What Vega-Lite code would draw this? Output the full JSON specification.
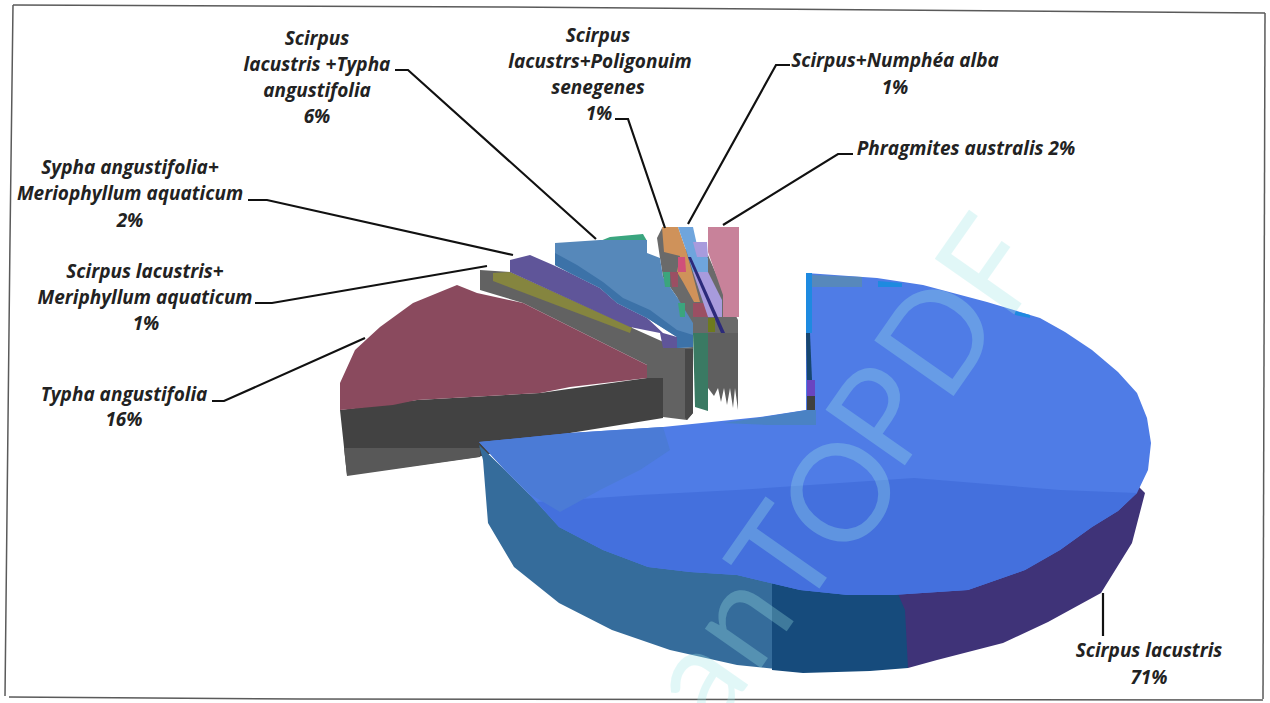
{
"$schema":"https://vega.github.io/schema/vega-lite/v6.json",
"width":1270,"height":703,"padding":0,
"autosize":{"type":"none","contains":"padding"},
"background":"#ffffff",
"view":{"stroke":null},
"datasets":{
"shapes":[
{"part":"typha side","i":0,"x":340,"y":410},{"part":"typha side","i":1,"x":347,"y":475},{"part":"typha side","i":2,"x":478,"y":457},{"part":"typha side","i":3,"x":570,"y":433},{"part":"typha side","i":4,"x":663,"y":418},{"part":"typha side","i":5,"x":663,"y":378},{"part":"typha side","i":6,"x":647,"y":378},{"part":"typha side","i":7,"x":540,"y":393},{"part":"typha side","i":8,"x":417,"y":400},
{"part":"typha side low","i":0,"x":344,"y":448},{"part":"typha side low","i":1,"x":480,"y":448},{"part":"typha side low","i":2,"x":480,"y":457},{"part":"typha side low","i":3,"x":347,"y":476},
{"part":"grey wall","i":0,"x":480,"y":270},{"part":"grey wall","i":1,"x":510,"y":272},{"part":"grey wall","i":2,"x":630,"y":327},{"part":"grey wall","i":3,"x":677,"y":348},{"part":"grey wall","i":4,"x":693,"y":347},{"part":"grey wall","i":5,"x":693,"y":413},{"part":"grey wall","i":6,"x":687,"y":420},{"part":"grey wall","i":7,"x":663,"y":417},{"part":"grey wall","i":8,"x":663,"y":378},{"part":"grey wall","i":9,"x":647,"y":378},{"part":"grey wall","i":10,"x":647,"y":365},{"part":"grey wall","i":11,"x":617,"y":350},{"part":"grey wall","i":12,"x":587,"y":335},{"part":"grey wall","i":13,"x":557,"y":320},{"part":"grey wall","i":14,"x":523,"y":303},{"part":"grey wall","i":15,"x":490,"y":293},{"part":"grey wall","i":16,"x":480,"y":290},
{"part":"wall shadow","i":0,"x":685,"y":349},{"part":"wall shadow","i":1,"x":693,"y":349},{"part":"wall shadow","i":2,"x":693,"y":413},{"part":"wall shadow","i":3,"x":687,"y":420},{"part":"wall shadow","i":4,"x":685,"y":418},
{"part":"typha top","i":0,"x":340,"y":410},{"part":"typha top","i":1,"x":340,"y":383},{"part":"typha top","i":2,"x":355,"y":350},{"part":"typha top","i":3,"x":380,"y":327},{"part":"typha top","i":4,"x":413,"y":303},{"part":"typha top","i":5,"x":457,"y":285},{"part":"typha top","i":6,"x":477,"y":293},{"part":"typha top","i":7,"x":523,"y":303},{"part":"typha top","i":8,"x":557,"y":320},{"part":"typha top","i":9,"x":587,"y":335},{"part":"typha top","i":10,"x":617,"y":350},{"part":"typha top","i":11,"x":647,"y":365},{"part":"typha top","i":12,"x":647,"y":378},{"part":"typha top","i":13,"x":570,"y":387},{"part":"typha top","i":14,"x":540,"y":393},{"part":"typha top","i":15,"x":417,"y":400},{"part":"typha top","i":16,"x":393,"y":405},
{"part":"olive top","i":0,"x":493,"y":273},{"part":"olive top","i":1,"x":510,"y":272},{"part":"olive top","i":2,"x":632,"y":327},{"part":"olive top","i":3,"x":630,"y":333},{"part":"olive top","i":4,"x":493,"y":281},
{"part":"purple top","i":0,"x":510,"y":260},{"part":"purple top","i":1,"x":530,"y":255},{"part":"purple top","i":2,"x":553,"y":265},{"part":"purple top","i":3,"x":570,"y":273},{"part":"purple top","i":4,"x":600,"y":288},{"part":"purple top","i":5,"x":617,"y":303},{"part":"purple top","i":6,"x":647,"y":318},{"part":"purple top","i":7,"x":663,"y":333},{"part":"purple top","i":8,"x":677,"y":337},{"part":"purple top","i":9,"x":677,"y":348},{"part":"purple top","i":10,"x":663,"y":348},{"part":"purple top","i":11,"x":660,"y":333},{"part":"purple top","i":12,"x":630,"y":327},{"part":"purple top","i":13,"x":510,"y":272},
{"part":"small grey","i":0,"x":657,"y":238},{"part":"small grey","i":1,"x":662,"y":228},{"part":"small grey","i":2,"x":678,"y":248},{"part":"small grey","i":3,"x":693,"y":250},{"part":"small grey","i":4,"x":708,"y":255},{"part":"small grey","i":5,"x":723,"y":290},{"part":"small grey","i":6,"x":738,"y":320},{"part":"small grey","i":7,"x":738,"y":335},{"part":"small grey","i":8,"x":693,"y":335},{"part":"small grey","i":9,"x":677,"y":297},{"part":"small grey","i":10,"x":663,"y":277},{"part":"small grey","i":11,"x":660,"y":258},
{"part":"green rim","i":0,"x":600,"y":241},{"part":"green rim","i":1,"x":610,"y":237},{"part":"green rim","i":2,"x":643,"y":234},{"part":"green rim","i":3,"x":647,"y":241},
{"part":"blue six top","i":0,"x":555,"y":243},{"part":"blue six top","i":1,"x":600,"y":240},{"part":"blue six top","i":2,"x":647,"y":240},{"part":"blue six top","i":3,"x":647,"y":253},{"part":"blue six top","i":4,"x":660,"y":258},{"part":"blue six top","i":5,"x":663,"y":277},{"part":"blue six top","i":6,"x":677,"y":297},{"part":"blue six top","i":7,"x":693,"y":323},{"part":"blue six top","i":8,"x":693,"y":347},{"part":"blue six top","i":9,"x":677,"y":348},{"part":"blue six top","i":10,"x":677,"y":337},{"part":"blue six top","i":11,"x":647,"y":318},{"part":"blue six top","i":12,"x":617,"y":303},{"part":"blue six top","i":13,"x":600,"y":288},{"part":"blue six top","i":14,"x":570,"y":273},{"part":"blue six top","i":15,"x":555,"y":265},
{"part":"blue six shade","i":0,"x":555,"y":253},{"part":"blue six shade","i":1,"x":577,"y":265},{"part":"blue six shade","i":2,"x":603,"y":282},{"part":"blue six shade","i":3,"x":623,"y":298},{"part":"blue six shade","i":4,"x":650,"y":310},{"part":"blue six shade","i":5,"x":677,"y":330},{"part":"blue six shade","i":6,"x":693,"y":335},{"part":"blue six shade","i":7,"x":693,"y":347},{"part":"blue six shade","i":8,"x":677,"y":348},{"part":"blue six shade","i":9,"x":677,"y":337},{"part":"blue six shade","i":10,"x":647,"y":318},{"part":"blue six shade","i":11,"x":617,"y":303},{"part":"blue six shade","i":12,"x":600,"y":288},{"part":"blue six shade","i":13,"x":570,"y":273},{"part":"blue six shade","i":14,"x":555,"y":265},
{"part":"green wall","i":0,"x":693,"y":333},{"part":"green wall","i":1,"x":708,"y":333},{"part":"green wall","i":2,"x":708,"y":411},{"part":"green wall","i":3,"x":695,"y":407},
{"part":"right wall","i":0,"x":708,"y":333},{"part":"right wall","i":1,"x":738,"y":333},{"part":"right wall","i":2,"x":738,"y":410},{"part":"right wall","i":3,"x":735,"y":388},{"part":"right wall","i":4,"x":733,"y":408},{"part":"right wall","i":5,"x":730,"y":388},{"part":"right wall","i":6,"x":727,"y":405},{"part":"right wall","i":7,"x":724,"y":388},{"part":"right wall","i":8,"x":721,"y":402},{"part":"right wall","i":9,"x":718,"y":388},{"part":"right wall","i":10,"x":714,"y":396},{"part":"right wall","i":11,"x":708,"y":388},
{"part":"orange top","i":0,"x":662,"y":227},{"part":"orange top","i":1,"x":678,"y":227},{"part":"orange top","i":2,"x":686,"y":250},{"part":"orange top","i":3,"x":692,"y":272},{"part":"orange top","i":4,"x":700,"y":302},{"part":"orange top","i":5,"x":694,"y":302},{"part":"orange top","i":6,"x":683,"y":282},{"part":"orange top","i":7,"x":677,"y":272},{"part":"orange top","i":8,"x":680,"y":256},{"part":"orange top","i":9,"x":664,"y":252},
{"part":"pink fleck","i":0,"x":678,"y":257},{"part":"pink fleck","i":1,"x":685,"y":257},{"part":"pink fleck","i":2,"x":686,"y":272},{"part":"pink fleck","i":3,"x":678,"y":272},
{"part":"maroon fleck","i":0,"x":670,"y":272},{"part":"maroon fleck","i":1,"x":678,"y":272},{"part":"maroon fleck","i":2,"x":678,"y":287},{"part":"maroon fleck","i":3,"x":672,"y":287},
{"part":"green fleck","i":0,"x":663,"y":272},{"part":"green fleck","i":1,"x":670,"y":272},{"part":"green fleck","i":2,"x":670,"y":287},{"part":"green fleck","i":3,"x":665,"y":287},
{"part":"green fleck low","i":0,"x":678,"y":303},{"part":"green fleck low","i":1,"x":685,"y":303},{"part":"green fleck low","i":2,"x":685,"y":317},{"part":"green fleck low","i":3,"x":680,"y":317},
{"part":"maroon fleck low","i":0,"x":693,"y":303},{"part":"maroon fleck low","i":1,"x":707,"y":303},{"part":"maroon fleck low","i":2,"x":708,"y":317},{"part":"maroon fleck low","i":3,"x":693,"y":317},
{"part":"sky top","i":0,"x":678,"y":227},{"part":"sky top","i":1,"x":693,"y":227},{"part":"sky top","i":2,"x":697,"y":245},{"part":"sky top","i":3,"x":708,"y":258},{"part":"sky top","i":4,"x":708,"y":272},{"part":"sky top","i":5,"x":693,"y":272},{"part":"sky top","i":6,"x":686,"y":250},
{"part":"lavender upper","i":0,"x":693,"y":242},{"part":"lavender upper","i":1,"x":707,"y":242},{"part":"lavender upper","i":2,"x":708,"y":257},{"part":"lavender upper","i":3,"x":697,"y":257},
{"part":"lavender lower","i":0,"x":693,"y":272},{"part":"lavender lower","i":1,"x":708,"y":272},{"part":"lavender lower","i":2,"x":722,"y":300},{"part":"lavender lower","i":3,"x":722,"y":317},{"part":"lavender lower","i":4,"x":708,"y":317},
{"part":"navy sliver","i":0,"x":688,"y":257},{"part":"navy sliver","i":1,"x":691,"y":257},{"part":"navy sliver","i":2,"x":725,"y":333},{"part":"navy sliver","i":3,"x":721,"y":333},
{"part":"olive fleck","i":0,"x":708,"y":318},{"part":"olive fleck","i":1,"x":715,"y":318},{"part":"olive fleck","i":2,"x":715,"y":332},{"part":"olive fleck","i":3,"x":708,"y":332},
{"part":"rose top","i":0,"x":708,"y":227},{"part":"rose top","i":1,"x":739,"y":227},{"part":"rose top","i":2,"x":739,"y":317},{"part":"rose top","i":3,"x":723,"y":317},{"part":"rose top","i":4,"x":723,"y":295},{"part":"rose top","i":5,"x":708,"y":252},
{"part":"steel side","i":0,"x":479,"y":445},{"part":"steel side","i":1,"x":505,"y":470},{"part":"steel side","i":2,"x":528,"y":493},{"part":"steel side","i":3,"x":559,"y":520},{"part":"steel side","i":4,"x":603,"y":540},{"part":"steel side","i":5,"x":648,"y":555},{"part":"steel side","i":6,"x":737,"y":560},{"part":"steel side","i":7,"x":785,"y":570},{"part":"steel side","i":8,"x":785,"y":670},{"part":"steel side","i":9,"x":737,"y":665},{"part":"steel side","i":10,"x":670,"y":650},{"part":"steel side","i":11,"x":612,"y":630},{"part":"steel side","i":12,"x":559,"y":603},{"part":"steel side","i":13,"x":514,"y":567},{"part":"steel side","i":14,"x":488,"y":523},{"part":"steel side","i":15,"x":483,"y":460},
{"part":"navy side","i":0,"x":772,"y":570},{"part":"navy side","i":1,"x":848,"y":580},{"part":"navy side","i":2,"x":892,"y":580},{"part":"navy side","i":3,"x":912,"y":605},{"part":"navy side","i":4,"x":908,"y":668},{"part":"navy side","i":5,"x":870,"y":671},{"part":"navy side","i":6,"x":803,"y":673},{"part":"navy side","i":7,"x":772,"y":670},
{"part":"purple side","i":0,"x":892,"y":580},{"part":"purple side","i":1,"x":968,"y":575},{"part":"purple side","i":2,"x":1025,"y":555},{"part":"purple side","i":3,"x":1092,"y":515},{"part":"purple side","i":4,"x":1137,"y":485},{"part":"purple side","i":5,"x":1145,"y":493},{"part":"purple side","i":6,"x":1132,"y":543},{"part":"purple side","i":7,"x":1101,"y":593},{"part":"purple side","i":8,"x":1048,"y":622},{"part":"purple side","i":9,"x":1003,"y":643},{"part":"purple side","i":10,"x":937,"y":660},{"part":"purple side","i":11,"x":908,"y":668},{"part":"purple side","i":12,"x":905,"y":610},
{"part":"scirpus top","i":0,"x":806,"y":273},{"part":"scirpus top","i":1,"x":877,"y":278},{"part":"scirpus top","i":2,"x":923,"y":285},{"part":"scirpus top","i":3,"x":987,"y":302},{"part":"scirpus top","i":4,"x":1040,"y":318},{"part":"scirpus top","i":5,"x":1065,"y":332},{"part":"scirpus top","i":6,"x":1092,"y":350},{"part":"scirpus top","i":7,"x":1118,"y":372},{"part":"scirpus top","i":8,"x":1137,"y":393},{"part":"scirpus top","i":9,"x":1147,"y":418},{"part":"scirpus top","i":10,"x":1151,"y":443},{"part":"scirpus top","i":11,"x":1148,"y":470},{"part":"scirpus top","i":12,"x":1137,"y":493},{"part":"scirpus top","i":13,"x":1118,"y":511},{"part":"scirpus top","i":14,"x":1092,"y":527},{"part":"scirpus top","i":15,"x":1060,"y":550},{"part":"scirpus top","i":16,"x":1025,"y":570},{"part":"scirpus top","i":17,"x":968,"y":590},{"part":"scirpus top","i":18,"x":892,"y":595},{"part":"scirpus top","i":19,"x":848,"y":595},{"part":"scirpus top","i":20,"x":800,"y":590},{"part":"scirpus top","i":21,"x":737,"y":575},{"part":"scirpus top","i":22,"x":690,"y":572},{"part":"scirpus top","i":23,"x":648,"y":567},{"part":"scirpus top","i":24,"x":603,"y":550},{"part":"scirpus top","i":25,"x":559,"y":527},{"part":"scirpus top","i":26,"x":528,"y":493},{"part":"scirpus top","i":27,"x":505,"y":470},{"part":"scirpus top","i":28,"x":479,"y":442},{"part":"scirpus top","i":29,"x":570,"y":433},{"part":"scirpus top","i":30,"x":663,"y":427},{"part":"scirpus top","i":31,"x":760,"y":417},{"part":"scirpus top","i":32,"x":806,"y":410},
{"part":"scirpus band","i":0,"x":537,"y":502},{"part":"scirpus band","i":1,"x":640,"y":495},{"part":"scirpus band","i":2,"x":737,"y":490},{"part":"scirpus band","i":3,"x":914,"y":478},{"part":"scirpus band","i":4,"x":1060,"y":490},{"part":"scirpus band","i":5,"x":1137,"y":493},{"part":"scirpus band","i":6,"x":1118,"y":511},{"part":"scirpus band","i":7,"x":1092,"y":527},{"part":"scirpus band","i":8,"x":1060,"y":550},{"part":"scirpus band","i":9,"x":1025,"y":570},{"part":"scirpus band","i":10,"x":968,"y":590},{"part":"scirpus band","i":11,"x":892,"y":595},{"part":"scirpus band","i":12,"x":848,"y":595},{"part":"scirpus band","i":13,"x":800,"y":590},{"part":"scirpus band","i":14,"x":737,"y":575},{"part":"scirpus band","i":15,"x":690,"y":572},{"part":"scirpus band","i":16,"x":648,"y":567},{"part":"scirpus band","i":17,"x":603,"y":550},{"part":"scirpus band","i":18,"x":559,"y":527},
{"part":"scirpus rim left","i":0,"x":479,"y":442},{"part":"scirpus rim left","i":1,"x":570,"y":433},{"part":"scirpus rim left","i":2,"x":663,"y":427},{"part":"scirpus rim left","i":3,"x":670,"y":450},{"part":"scirpus rim left","i":4,"x":640,"y":470},{"part":"scirpus rim left","i":5,"x":600,"y":490},{"part":"scirpus rim left","i":6,"x":560,"y":512},{"part":"scirpus rim left","i":7,"x":528,"y":493},{"part":"scirpus rim left","i":8,"x":505,"y":470},
{"part":"scirpus rim edge","i":0,"x":806,"y":273},{"part":"scirpus rim edge","i":1,"x":812,"y":273},{"part":"scirpus rim edge","i":2,"x":812,"y":333},{"part":"scirpus rim edge","i":3,"x":806,"y":333},
{"part":"scirpus rim dark","i":0,"x":806,"y":333},{"part":"scirpus rim dark","i":1,"x":810,"y":333},{"part":"scirpus rim dark","i":2,"x":812,"y":380},{"part":"scirpus rim dark","i":3,"x":807,"y":380},
{"part":"scirpus rim foot","i":0,"x":807,"y":380},{"part":"scirpus rim foot","i":1,"x":815,"y":380},{"part":"scirpus rim foot","i":2,"x":815,"y":396},{"part":"scirpus rim foot","i":3,"x":807,"y":396},
{"part":"scirpus rim base","i":0,"x":807,"y":396},{"part":"scirpus rim base","i":1,"x":815,"y":396},{"part":"scirpus rim base","i":2,"x":815,"y":410},{"part":"scirpus rim base","i":3,"x":807,"y":410},
{"part":"scirpus rim back","i":0,"x":812,"y":275},{"part":"scirpus rim back","i":1,"x":862,"y":277},{"part":"scirpus rim back","i":2,"x":862,"y":287},{"part":"scirpus rim back","i":3,"x":812,"y":287},
{"part":"scirpus rim cyan","i":0,"x":878,"y":281},{"part":"scirpus rim cyan","i":1,"x":902,"y":283},{"part":"scirpus rim cyan","i":2,"x":902,"y":287},{"part":"scirpus rim cyan","i":3,"x":878,"y":287},
{"part":"scirpus rim cyan far","i":0,"x":1015,"y":311},{"part":"scirpus rim cyan far","i":1,"x":1030,"y":315},{"part":"scirpus rim cyan far","i":2,"x":1030,"y":318},{"part":"scirpus rim cyan far","i":3,"x":1015,"y":315},
{"part":"scirpus rim front","i":0,"x":723,"y":423},{"part":"scirpus rim front","i":1,"x":770,"y":416},{"part":"scirpus rim front","i":2,"x":807,"y":410},{"part":"scirpus rim front","i":3,"x":816,"y":410},{"part":"scirpus rim front","i":4,"x":816,"y":425},{"part":"scirpus rim front","i":5,"x":768,"y":425}
],
"leaders":[
{"leader":"typha","i":0,"x":212,"y":401},{"leader":"typha","i":1,"x":224,"y":401},{"leader":"typha","i":2,"x":365,"y":338},
{"leader":"meriphyllum","i":0,"x":255,"y":303},{"leader":"meriphyllum","i":1,"x":272,"y":303},{"leader":"meriphyllum","i":2,"x":487,"y":266},
{"leader":"sypha","i":0,"x":248,"y":200},{"leader":"sypha","i":1,"x":267,"y":200},{"leader":"sypha","i":2,"x":513,"y":255},
{"leader":"scirpus typha","i":0,"x":395,"y":70},{"leader":"scirpus typha","i":1,"x":408,"y":70},{"leader":"scirpus typha","i":2,"x":596,"y":239},
{"leader":"poligonuim","i":0,"x":615,"y":119},{"leader":"poligonuim","i":1,"x":628,"y":119},{"leader":"poligonuim","i":2,"x":665,"y":228},
{"leader":"numphea","i":0,"x":790,"y":65},{"leader":"numphea","i":1,"x":776,"y":65},{"leader":"numphea","i":2,"x":688,"y":224},
{"leader":"phragmites","i":0,"x":853,"y":154},{"leader":"phragmites","i":1,"x":838,"y":154},{"leader":"phragmites","i":2,"x":723,"y":225},
{"leader":"scirpus lacustris","i":0,"x":1103,"y":593},{"leader":"scirpus lacustris","i":1,"x":1103,"y":636}
],
"frame":[
{"side":"top","i":0,"x":13,"y":5},{"side":"top","i":1,"x":500,"y":7},{"side":"top","i":2,"x":1265,"y":13},
{"side":"right","i":0,"x":1265,"y":13},{"side":"right","i":1,"x":1263,"y":699},
{"side":"bottom","i":0,"x":1263,"y":700},{"side":"bottom","i":1,"x":300,"y":699},{"side":"bottom","i":2,"x":9,"y":697},
{"side":"left","i":0,"x":13,"y":5},{"side":"left","i":1,"x":10,"y":240},{"side":"left","i":2,"x":5,"y":696}
],
"labels":[
{"species":"Scirpus lacustris + Typha angustifolia","pct":6,"text":"Scirpus","x":317,"y":37},
{"species":"Scirpus lacustris + Typha angustifolia","pct":6,"text":"lacustris +Typha","x":317,"y":63},
{"species":"Scirpus lacustris + Typha angustifolia","pct":6,"text":"angustifolia","x":317,"y":89},
{"species":"Scirpus lacustris + Typha angustifolia","pct":6,"text":"6%","x":317,"y":115},
{"species":"Sypha angustifolia + Meriophyllum aquaticum","pct":2,"text":"Sypha angustifolia+","x":130,"y":166},
{"species":"Sypha angustifolia + Meriophyllum aquaticum","pct":2,"text":"Meriophyllum aquaticum","x":130,"y":192},
{"species":"Sypha angustifolia + Meriophyllum aquaticum","pct":2,"text":"2%","x":130,"y":219},
{"species":"Scirpus lacustris + Meriphyllum aquaticum","pct":1,"text":"Scirpus lacustris+","x":145,"y":270},
{"species":"Scirpus lacustris + Meriphyllum aquaticum","pct":1,"text":"Meriphyllum aquaticum","x":145,"y":296},
{"species":"Scirpus lacustris + Meriphyllum aquaticum","pct":1,"text":"1%","x":146,"y":322},
{"species":"Typha angustifolia","pct":16,"text":"Typha angustifolia","x":124,"y":393},
{"species":"Typha angustifolia","pct":16,"text":"16%","x":124,"y":418},
{"species":"Scirpus lacustris + Poligonuim senegenes","pct":1,"text":"Scirpus","x":598,"y":34},
{"species":"Scirpus lacustris + Poligonuim senegenes","pct":1,"text":"lacustrs+Poligonuim","x":600,"y":60},
{"species":"Scirpus lacustris + Poligonuim senegenes","pct":1,"text":"senegenes","x":598,"y":86},
{"species":"Scirpus lacustris + Poligonuim senegenes","pct":1,"text":"1%","x":599,"y":112},
{"species":"Scirpus + Numphea alba","pct":1,"text":"Scirpus+Numphéa alba","x":895,"y":59},
{"species":"Scirpus + Numphea alba","pct":1,"text":"1%","x":895,"y":86},
{"species":"Phragmites australis","pct":2,"text":"Phragmites australis 2%","x":966,"y":147},
{"species":"Scirpus lacustris","pct":71,"text":"Scirpus lacustris","x":1149,"y":649},
{"species":"Scirpus lacustris","pct":71,"text":"71%","x":1149,"y":676}
],
"stamp":[
{"text":"a","x":734,"y":705},
{"text":"n","x":777,"y":645},
{"text":"T","x":823,"y":583},
{"text":"O","x":880,"y":520},
{"text":"P","x":921,"y":442},
{"text":"D","x":976,"y":364},
{"text":"F","x":1029,"y":293}
]
},
"layer":[
{"data":{"name":"frame"},
 "mark":{"type":"line","stroke":"#5a5a5a","strokeWidth":1.5},
 "encoding":{
  "x":{"field":"x","type":"quantitative","scale":{"domain":[0,1270],"nice":false,"zero":false},"axis":null},
  "y":{"field":"y","type":"quantitative","scale":{"domain":[0,703],"nice":false,"zero":false,"reverse":true},"axis":null},
  "detail":{"field":"side"},"order":{"field":"i"}}},
{"data":{"name":"shapes"},
 "mark":{"type":"line","filled":true,"strokeWidth":0},
 "encoding":{
  "x":{"field":"x","type":"quantitative"},
  "y":{"field":"y","type":"quantitative"},
  "order":{"field":"i"},
  "color":{"field":"part","type":"nominal","legend":null,"scale":{
   "domain":["typha side","typha side low","grey wall","wall shadow","typha top","olive top","purple top","small grey","green rim","blue six top","blue six shade","green wall","right wall","orange top","pink fleck","maroon fleck","green fleck","green fleck low","maroon fleck low","sky top","lavender upper","lavender lower","navy sliver","olive fleck","rose top","steel side","navy side","purple side","scirpus top","scirpus band","scirpus rim left","scirpus rim edge","scirpus rim dark","scirpus rim foot","scirpus rim base","scirpus rim back","scirpus rim cyan","scirpus rim cyan far","scirpus rim front"],
   "range":["#424242","#585858","#626262","#484848","#8a4a5e","#85853f","#5f5599","#6a6a6a","#3aa57f","#5688ba","#3c72a8","#3a7a63","#5f5f5f","#cf925a","#d0507a","#9b4f63","#3ba57d","#3ba57d","#9b4f63","#6fa5dd","#a89bdd","#a89bdd","#2c2a7a","#6e7a1e","#c8829a","#356c9b","#164b7c","#3f3378","#4f7ce6","#4470dd","#4b7bd6","#1e8ae0","#17466f","#6a45c0","#404040","#5788bb","#1e8ae0","#1e8ae0","#4a82c4"]}}}},
{"data":{"name":"leaders"},
 "mark":{"type":"line","stroke":"#111111","strokeWidth":2.2},
 "encoding":{
  "x":{"field":"x","type":"quantitative"},
  "y":{"field":"y","type":"quantitative"},
  "detail":{"field":"leader"},"order":{"field":"i"}}},
{"data":{"name":"labels"},
 "mark":{"type":"text","font":"Open Sans","fontStyle":"italic","fontWeight":"bold","fontSize":19,"dy":2,"align":"center","baseline":"middle","fill":"#222222"},
 "encoding":{
  "x":{"field":"x","type":"quantitative"},
  "y":{"field":"y","type":"quantitative"},
  "text":{"field":"text"}}},
{"data":{"name":"stamp"},
 "mark":{"type":"text","font":"Lato","fontSize":135,"angle":-55,"align":"center","baseline":"alphabetic","fill":"#9fe8e8","opacity":0.3},
 "encoding":{
  "x":{"field":"x","type":"quantitative"},
  "y":{"field":"y","type":"quantitative"},
  "text":{"field":"text"}}}
]
}
